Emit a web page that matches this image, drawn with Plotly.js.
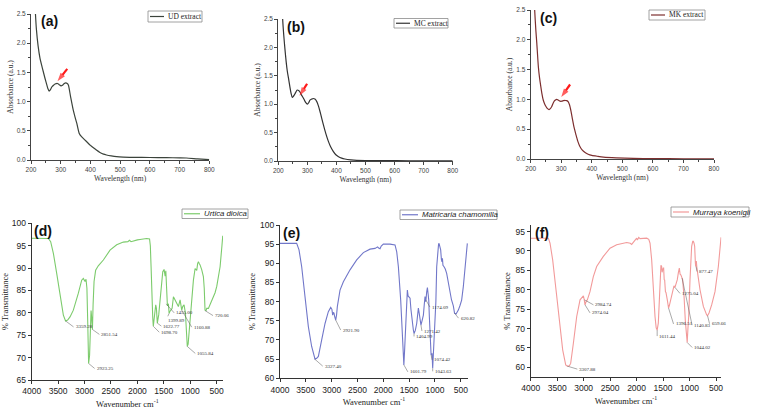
<!DOCTYPE html>
<html><head><meta charset="utf-8">
<script src="https://cdn.plot.ly/plotly-3.0.1.min.js"></script>
<style>html,body{margin:0;padding:0;background:#fff}#chart{width:757px;height:411px}</style>
</head><body><div id="chart"></div>
<script>
// ---------- UV-Vis data ----------
var wlA = [210,215,218,224,230,236,241,247,253,257,261,265,270,276,281,289,295,301,306,312,317,322,326,333,342,348,354,362,370,380,390,400,410,420,432,444,454,470,488,510,544,600,656,700,723,760,800];
var absA = [3.0,2.5,2.25,1.95,1.75,1.62,1.52,1.40,1.29,1.22,1.18,1.20,1.25,1.28,1.30,1.31,1.29,1.27,1.28,1.31,1.32,1.31,1.28,1.09,0.86,0.74,0.63,0.46,0.40,0.35,0.30,0.25,0.21,0.17,0.13,0.10,0.086,0.07,0.057,0.05,0.046,0.043,0.04,0.037,0.034,0.02,0.006];

var wlB = [212,215,219,223,227,231,236,240,244,248,252,257,261,265,270,275,280,286,292,296,300,305,309,315,320,326,332,338,343,349,355,363,372,380,389,398,406,418,429,450,470,520,561,650,800];
var absB = [2.9,2.5,2.2,1.96,1.75,1.58,1.43,1.30,1.19,1.12,1.14,1.18,1.22,1.25,1.24,1.21,1.16,1.11,1.05,1.02,1.00,1.03,1.07,1.09,1.10,1.09,1.05,0.97,0.88,0.76,0.64,0.49,0.35,0.25,0.17,0.11,0.08,0.05,0.035,0.02,0.012,0.008,0.006,0.004,0.003];

var wlC = [210,213,217,220,225,229,233,237,241,246,250,255,260,265,269,273,277,281,285,290,296,302,307,313,318,323,327,332,337,342,348,354,361,369,378,388,400,420,438,480,536,600,700,800];
var absC = [2.9,2.5,2.15,1.94,1.55,1.36,1.22,1.09,0.99,0.92,0.88,0.845,0.83,0.85,0.88,0.93,0.97,0.99,1.00,0.99,0.97,0.97,0.98,0.985,0.98,0.96,0.91,0.80,0.66,0.53,0.41,0.30,0.21,0.15,0.11,0.08,0.06,0.045,0.033,0.02,0.011,0.007,0.004,0.003];

var uvNames = ["UD extract","MC extract","MK extract"];
// red arrows: [tailX, tailY, headX, headY]
var arrowA = [322,1.56,289,1.35];
var arrowB = [299,1.36,273,1.15];
var arrowC = [329,1.25,300,1.04];

// ---------- FTIR data ----------
var wnD = [4000,3800,3685,3641,3590,3527,3464,3401,3359,3320,3275,3212,3117,3054,3023,2991,2972,2955,2940,2923,2905,2888,2877,2866,2851,2838,2820,2790,2740,2644,2518,2392,2266,2180,2150,2120,2077,2000,1951,1900,1825,1770,1755,1741,1722,1710,1698.7,1678,1653,1640,1622.77,1596,1558,1520,1495,1475,1462,1445,1432,1413,1400,1385,1369,1343,1318,1300,1286,1255,1224,1192,1175,1161,1142,1117,1091,1075,1066,1055.84,1040,1020,1003,990,971,955,940,908,877,860,845,830,814,782,751,735,720,700,688,656,625,600,562,530,498,465,435,400,385];
var tD = [96.65,96.65,96.6,95.9,93.3,88.8,83.6,79.5,78.2,78.4,79.1,80.6,84.4,87.3,87.7,87.0,87.5,85.5,78,68.7,70.5,76,80.5,79,76.3,82,87,89.5,90.5,91.8,94.0,95.2,95.8,95.9,96.2,95.9,96.1,96.3,96.4,96.5,96.6,96.5,95,90.3,79.9,79,77,79.2,81.8,81.0,77.7,79.6,85.1,89.2,89.7,88.2,89.4,83.6,81.6,82.0,79.9,80.3,80.6,81,83.6,83.2,83.1,82.1,81.4,82.9,81,80.6,81.4,81.8,79.9,76,74,72.5,73,76,78.4,80,81.4,84,87.3,89.9,89.5,91,91.4,91,90.7,89.6,88.1,85.5,80.6,80.5,81,81,81.8,82.5,83.3,84.5,85.9,88,90.3,95,97.2];

var wnE = [4000,3800,3677,3632,3580,3516,3451,3387,3340,3322,3290,3257,3193,3128,3064,3018,2995,2980,2965,2954,2940,2921.9,2905,2890,2838,2773,2644,2515,2386,2257,2160,2110,2090,2063,2040,1999,1870,1773,1740,1708,1663,1624,1601.79,1585,1566,1550,1534,1520,1508,1482,1465,1450,1435,1418,1404.99,1380,1353,1335,1321,1305,1288,1271.42,1250,1224,1205,1192,1180,1174.09,1160,1146,1132,1120,1108,1095,1074.42,1060,1056,1043.63,1030,1015,998,982,966,945,930,921,905,889,875,863,855,845,824,800,773,740,708,680,644,620.82,592,570,547,515,483,450,419,373];
var tE = [95.2,95.2,95.2,93.5,89.1,81.3,73.5,68.3,65.3,65.0,65.2,65.7,70,74.3,77.4,78.5,78,76.5,77.2,77,76,75.2,76.5,78.7,83,85.2,88.3,90.9,92.8,93.7,93.9,94.3,94.0,93.8,94.5,95,95.0,94.8,93,89.1,80.4,70,63.5,68,73.5,80,83,81.5,81.3,80.9,78,75.7,75.5,72.6,71.7,72.5,74.3,77,78.3,77,75.2,73.9,75,76.5,79.5,81.3,80,80.4,82.5,83.7,82,80.4,76,71.7,66.1,66.3,66.5,62.6,66,70,73,80,89.1,93.5,95.0,95.2,94.6,93.5,91,90.4,91.3,89.5,89.1,88.5,87.4,85,82.2,80.5,78.9,77,76.8,77.3,77.8,79,80.4,84,89.1,95.2];

var wnF = [4000,3800,3666,3635,3585,3522,3459,3396,3339,3307.88,3270,3245,3194,3131,3068,3005,2990,2984.74,2974.04,2955,2930,2880,2817,2754,2628,2502,2376,2187,2120,2093,2060,2030,2010,1998,1985,1960,1935,1809,1770,1746,1715,1684,1652,1630,1611.44,1590,1575,1559,1540,1527,1518,1508,1495,1489,1478,1470,1455,1445,1420,1396.51,1380,1357,1319,1294,1275.04,1255,1231,1210,1193,1178,1162,1140.83,1130,1115,1104,1079,1060,1054,1044.02,1030,1016,991,975,960,940,928,915,903,890,884,877.47,871,860,852,802,739,700,676,659.66,632,582,519,456,405];
var tF = [93.3,93.3,93.3,92.0,87.7,80.0,71.4,64.5,60.6,60.3,60.4,61.0,66.2,73.1,77.4,78.4,77.5,77,76.1,76.9,77.4,79.5,83.4,86,88.6,90.7,91.6,92.2,92.0,91.7,92.3,92.9,93.0,93.3,92.8,93.5,93.2,93.3,93,92,87.7,80.0,73.1,70.2,69.6,71.4,76,81.7,86.3,86,84.5,85.1,85.6,85.6,82.5,82.6,79.5,79.3,77.4,75.3,76,77.4,80.0,81,80.6,81.5,82.6,84.5,85.6,84,83.8,83,82.6,80,78.4,71.9,67.5,66.7,66.4,70,73.1,82.6,88,91.2,92.5,92.5,92,91.2,87,86,87.3,87.3,85.5,84.7,80,75.7,74.2,73.5,73.3,74,76.1,79.5,86,93.5];

var irNames = ["Urtica dioica","Matricaria chamomilla","Murraya koenigii"];

// labelled bands
var pkDx = [3359.28,2923.25,2851.54,1698.70,1622.77,1455.00,1399.89,1160.88,1055.84,720.06];
var pkDy = [78.2,68.7,76.3,77.0,77.7,82.0,79.9,80.6,72.5,80.5];
var pkEx = [3327.40,2921.90,1601.79,1404.99,1271.42,1174.09,1074.42,1043.63,620.82];
var pkEy = [65.0,75.2,63.5,71.7,73.9,80.4,66.1,62.6,77.0];
var pkFx = [3307.88,2984.74,2974.04,1611.44,1396.51,1275.04,1140.83,1044.02,877.47,659.66];
var pkFy = [60.3,77.4,76.1,69.6,75.3,80.6,83.0,66.4,86.0,73.3];

// ---------- layout helpers (pixel -> paper) ----------
var W = 757, H = 411;
function PX(p){ return p / W; }
function PY(p){ return 1 - p / H; }

var serif = "Liberation Serif, Times New Roman, serif";
var sans = "Liberation Sans, Arial, sans-serif";

var uvColors = ["#3b433b","#333333","#7d2f2f"];
var irColors = ["#7ccb6c","#7177c9","#f29a9a"];

var traces = [
  {x: wlA, y: absA, name: uvNames[0], xaxis: "x", yaxis: "y", line: {color: uvColors[0], width: 1.2, shape: "spline", smoothing: 0.6}},
  {x: wlB, y: absB, name: uvNames[1], xaxis: "x2", yaxis: "y2", line: {color: uvColors[1], width: 1.2, shape: "spline", smoothing: 0.6}},
  {x: wlC, y: absC, name: uvNames[2], xaxis: "x3", yaxis: "y3", line: {color: uvColors[2], width: 1.2, shape: "spline", smoothing: 0.6}},
  {x: wnD, y: tD, name: irNames[0], xaxis: "x4", yaxis: "y4", line: {color: irColors[0], width: 1.1}},
  {x: wnE, y: tE, name: irNames[1], xaxis: "x5", yaxis: "y5", line: {color: irColors[1], width: 1.1}},
  {x: wnF, y: tF, name: irNames[2], xaxis: "x6", yaxis: "y6", line: {color: irColors[2], width: 1.1}}
];
traces.forEach(function(t){ t.mode = "lines"; });

// red arrows as arrow-marker traces
[[arrowA,"x","y"],[arrowB,"x2","y2"],[arrowC,"x3","y3"]].forEach(function(a){
  var v = a[0];
  traces.push({x: [v[0], v[2]], y: [v[1], v[3]], xaxis: a[1], yaxis: a[2], mode: "lines+markers",
    line: {color: "#ff1a1a", width: 2.2},
    marker: {symbol: ["circle", "arrow"], size: [0, 9], color: "#ff1a1a", angleref: "previous", standoff: 0,
      line: {width: 0}}});
});
traces.forEach(function(t){ t.showlegend = false; t.hoverinfo = "skip"; });

function uvX(dom){
  return {domain: dom, range: [200, 800], dtick: 100, tick0: 200, showline: true, linecolor: "#444", linewidth: 1,
    ticks: "outside", ticklen: 3, tickcolor: "#444", showgrid: false, zeroline: false,
    tickfont: {family: sans, size: 6.5, color: "#444"},
    minor: {ticks: "outside", ticklen: 2, dtick: 50, tickcolor: "#444"},
    title: {text: "Wavelength (nm)", font: {family: serif, size: 7.5, color: "#333"}, standoff: 3}};
}
function uvY(dom){
  return {domain: dom, range: [0, 2.5], dtick: 0.5, tickformat: ".1f", showline: true, linecolor: "#444", linewidth: 1,
    ticks: "outside", ticklen: 3, tickcolor: "#444", showgrid: false, zeroline: false,
    tickfont: {family: sans, size: 6.5, color: "#444"},
    minor: {ticks: "outside", ticklen: 2, dtick: 0.25, tickcolor: "#444"},
    title: {text: "Absorbance (a.u.)", font: {family: serif, size: 7.5, color: "#333"}, standoff: 2}};
}
function irX(dom, rng){
  return {domain: dom, range: rng, dtick: 500, tick0: 0, showline: true, linecolor: "#333", linewidth: 1,
    ticks: "outside", ticklen: 3, tickcolor: "#333", showgrid: false, zeroline: false,
    tickfont: {family: sans, size: 8.5, color: "#222"},
    title: {text: "Wavenumber cm<sup>-1</sup>", font: {family: serif, size: 8.5, color: "#222"}, standoff: 5}};
}
function irY(dom, rng){
  return {domain: dom, range: rng, dtick: 5, tick0: 0, showline: true, linecolor: "#333", linewidth: 1,
    ticks: "outside", ticklen: 3, tickcolor: "#333", showgrid: false, zeroline: false,
    tickfont: {family: sans, size: 8.5, color: "#222"},
    title: {text: "% Transmittance", font: {family: serif, size: 8.5, color: "#222"}, standoff: 3}};
}

var layout = {
  width: W, height: H, margin: {l: 0, r: 0, t: 0, b: 0},
  paper_bgcolor: "#fff", plot_bgcolor: "rgba(0,0,0,0)", showlegend: false,
  xaxis:  uvX([PX(31), PX(209.3)]),        yaxis:  uvY([PY(160), PY(14)]),
  xaxis2: uvX([PX(278.3), PX(452.7)]),     yaxis2: uvY([PY(161), PY(19)]),
  xaxis3: uvX([PX(530.7), PX(714)]),       yaxis3: uvY([PY(159), PY(10)]),
  xaxis4: irX([PX(31.7), PX(223)], [4000, 380]), yaxis4: irY([PY(380), PY(223.3)], [65, 100]),
  xaxis5: irX([PX(280), PX(468)], [4000, 360]),  yaxis5: irY([PY(378.3), PY(225)], [60, 100]),
  xaxis6: irX([PX(530.7), PX(721.3)], [4000, 400]), yaxis6: irY([PY(377), PY(225)], [57.5, 96.7]),
  annotations: [], shapes: []
};
for (var i = 1; i <= 6; i++) {
  var xs = i === 1 ? "xaxis" : "xaxis" + i, ys = i === 1 ? "yaxis" : "yaxis" + i;
  layout[xs].anchor = i === 1 ? "y" : "y" + i;
  layout[ys].anchor = i === 1 ? "x" : "x" + i;
}

// panel labels
var panelLbl = [["(a)",39,21],["(b)",285,27],["(c)",538,18],["(d)",32,231],["(e)",281,233],["(f)",533,233]];
panelLbl.forEach(function(p){
  layout.annotations.push({text: "<b>" + p[0] + "</b>", xref: "paper", yref: "paper", x: PX(p[1]), y: PY(p[2]),
    xanchor: "left", yanchor: "middle", showarrow: false, font: {family: sans, size: 14, color: "#111"}});
});

// legends (box + line sample + text)
var legends = [
  {box: [148, 11, 202, 22], line: [150, 164], name: uvNames[0], color: uvColors[0], font: {family: serif, size: 7.5, color: "#222"}},
  {box: [394, 18.5, 448, 28], line: [396, 410], name: uvNames[1], color: uvColors[1], font: {family: serif, size: 7.5, color: "#222"}},
  {box: [649, 10, 705, 20], line: [651, 665], name: uvNames[2], color: uvColors[2], font: {family: serif, size: 7.5, color: "#222"}},
  {box: [182, 209, 248, 218.5], line: [184, 200], name: irNames[0], color: irColors[0], font: {family: sans, size: 7.8, color: "#222"}},
  {box: [400, 210, 497, 219.5], line: [402, 418], name: irNames[1], color: irColors[1], font: {family: sans, size: 7.8, color: "#222"}},
  {box: [671, 207, 749, 217], line: [673, 689], name: irNames[2], color: irColors[2], font: {family: sans, size: 7.8, color: "#222"}}
];
legends.forEach(function(L){
  var b = L.box, cy = (b[1] + b[3]) / 2;
  layout.shapes.push({type: "rect", xref: "paper", yref: "paper", x0: PX(b[0]), x1: PX(b[2]), y0: PY(b[3]), y1: PY(b[1]),
    line: {color: "#8a8a8a", width: 0.8}, fillcolor: "#fff"});
  layout.shapes.push({type: "line", xref: "paper", yref: "paper", x0: PX(L.line[0]), x1: PX(L.line[1]), y0: PY(cy), y1: PY(cy),
    line: {color: L.color, width: 1.2}});
  var txt = L.font.family === sans ? "<i>" + L.name + "</i>" : L.name;
  layout.annotations.push({text: txt, xref: "paper", yref: "paper", x: PX(L.line[1] + 2), y: PY(cy),
    xanchor: "left", yanchor: "middle", showarrow: false, font: L.font});
});

// band labels with leader lines
var offD = [[8,6],[6,5],[7,5],[6,6],[4,3],[8,9],[-3,7],[10,17],[8,7],[8,5]];
var offE = [[8,7],[5,10],[4,7],[0,3],[1,6],[4,7],[1,5],[0,3],[4,5]];
var offF = [[10,3],[9,5],[5,8],[0,6],[5,16],[5,6],[10,47],[5,5],[1,5],[2,8]];
function addPeaks(xs, ys, offs, xr, yr){
  xs.forEach(function(v, k){
    layout.annotations.push({x: v, y: ys[k], xref: xr, yref: yr, text: v.toFixed(2), showarrow: true,
      ax: offs[k][0], ay: offs[k][1], axref: "pixel", ayref: "pixel", xanchor: "left", yanchor: "middle",
      arrowhead: 0, arrowwidth: 0.5, arrowcolor: "#555", standoff: 0,
      font: {family: serif, size: 5, color: "#333"}});
  });
}
addPeaks(pkDx, pkDy, offD, "x4", "y4");
addPeaks(pkEx, pkEy, offE, "x5", "y5");
addPeaks(pkFx, pkFy, offF, "x6", "y6");

Plotly.newPlot("chart", traces, layout, {staticPlot: true, displayModeBar: false});
</script></body></html>
